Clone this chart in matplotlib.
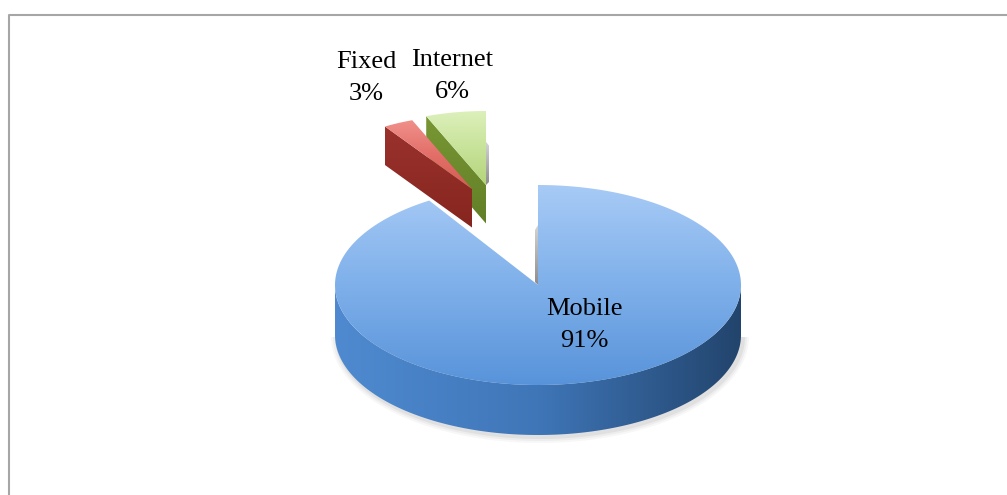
import numpy as np
import matplotlib.pyplot as plt
from matplotlib.patches import Polygon
from matplotlib.colors import LinearSegmentedColormap

# revenue split by service
labels = ['Mobile', 'Fixed', 'Internet']
shares = [91, 3, 6]

# look of each slice: top face colours, side colours, how far it is pulled out
top_colors = [['#A8CBF6', '#7FB0EA', '#5893DA'],
              ['#F0908A', '#E36F69', '#D65B56'],
              ['#DDF0BC', '#C8E39A', '#B3D47A']]
side_colors = [['#4F8AD0', '#3F76B8', '#22446C'],
               ['#9A322C', '#86251F', '#6A1B18'],
               ['#789733', '#627F27', '#4A651B']]
explode = [(0, 0), (-66, -96), (-52, -100)]
shrink = [(1.0, 1.0), (0.80, 0.74), (0.80, 0.74)]
label_pos = [(584, 325), (366, 78), (452, 76)]

W, H = 1007, 495
fig = plt.figure(figsize=(W / 100, H / 100), dpi=100)
ax = fig.add_axes([0, 0, 1, 1])

cx, cy = 538, 285
A, B, DEPTH = 203, 100, 50
EYE_X = 505   # horizontal position of the viewpoint, decides which edge-on cuts peek out


def shade(verts, colors, horizontal=False, z=1):
    verts = np.asarray(verts)
    patch = Polygon(verts, closed=True, facecolor='none', edgecolor='none', zorder=z)
    ax.add_patch(patch)
    x0, y0 = verts.min(axis=0)
    x1, y1 = verts.max(axis=0)
    cmap = LinearSegmentedColormap.from_list('g', colors)
    g = np.linspace(0, 1, 256)
    img = g[None, :] if horizontal else g[:, None]
    im = ax.imshow(img, cmap=cmap, extent=(x0, x1 + 0.01, y1 + 0.01, y0), origin='upper',
                   aspect='auto', zorder=z, interpolation='bilinear')
    im.set_clip_path(patch)


def arc(x, y, a, b, t0, t1, n=200):
    t = np.radians(np.linspace(t0, t1, n))
    return np.column_stack([x + a * np.sin(t), y - b * np.cos(t)])


# angles run clockwise from 12 o'clock
ends = np.cumsum(shares) / sum(shares) * 360
starts = np.concatenate([[0], ends[:-1]])

# back slices first, the big one last
order = [2, 1, 0]
z = 2
for i in order:
    t0, t1 = starts[i], ends[i]
    x = cx + explode[i][0]
    y = cy + explode[i][1]
    a = A * shrink[i][0]
    b = B * shrink[i][1]
    h = DEPTH * (shrink[i][0] + shrink[i][1]) / 2

    if i == 0:
        # soft shadow under the front of the disc
        for k, al in [(6, 0.03), (4, 0.04), (2, 0.05)]:
            sh = arc(x + 2, y + h + 2, a + k, b + k, 90, 270)
            ax.add_patch(Polygon(sh, closed=True, facecolor='black', edgecolor='none',
                                 alpha=al, zorder=z))
        z += 1

    # cut faces turned towards the viewer
    for t, vis in [(t0, np.sin(np.radians(t0)) < -1e-6), (t1, np.sin(np.radians(t1)) > 1e-6)]:
        if vis:
            p = arc(x, y, a, b, t, t, 1)[0]
            face = [(x, y), tuple(p), (p[0], p[1] + h), (x, y + h)]
            shade(face, side_colors[i][:2], z=z)
            z += 1

    # cuts along 12 o'clock are edge-on, only a thin sliver shows
    for t in (t0, t1):
        if abs(np.sin(np.radians(t))) < 1e-6 and np.cos(np.radians(t)) > 0:
            s = -1 if x > EYE_X else 1
            w = 3
            sliver = [(x, y - b + 0.8 * h), (x + s * w, y - b + 0.9 * h),
                      (x + s * w, y - 3), (x, y)]
            shade(sliver, ['#D6D6D6', '#8C8C8C'], z=z)
            z += 1

    # outer rim, front half only
    r0, r1 = max(t0, 90), min(t1, 270)
    if r1 > r0:
        upper = arc(x, y, a, b, r1, r0)
        lower = arc(x, y + h, a, b, r0, r1)
        shade(np.vstack([upper, lower]), side_colors[i], horizontal=True, z=z)
        z += 1

    top = np.vstack([[x, y], arc(x, y, a, b, t0, t1)])
    shade(top, top_colors[i], z=z)
    z += 1

    lx, ly = label_pos[i]
    ax.text(lx, ly, f'{labels[i]}\n{shares[i]}%', ha='center', va='center',
            fontsize=19, family='Liberation Serif', linespacing=1.6, zorder=50)

# chart frame
ax.plot([8.5, 8.5, W], [H, 14.5, 14.5], color='#A6A6A6', lw=1.5, zorder=60)

ax.set_xlim(0, W)
ax.set_ylim(H, 0)
ax.axis('off')
fig.savefig('out.png', dpi=100)
